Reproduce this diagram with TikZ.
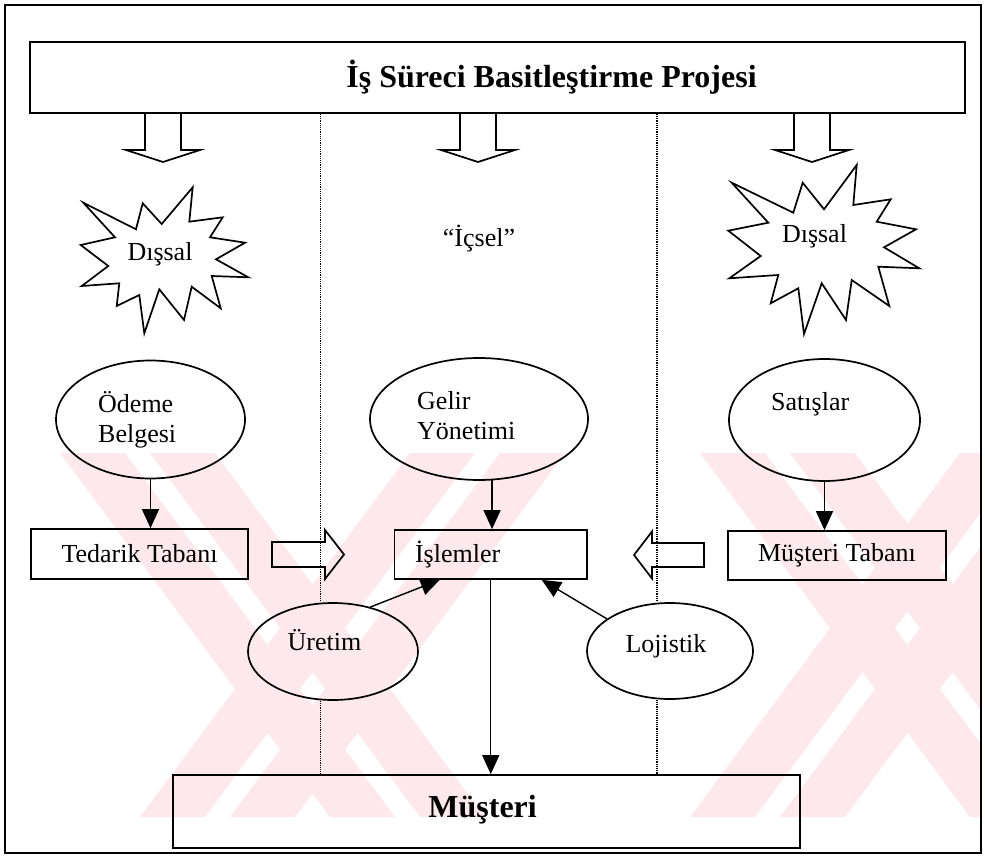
\documentclass[tikz,border=0pt]{standalone}
\usepackage{fontspec}
\setmainfont{Liberation Serif}
\usetikzlibrary{shapes.geometric,arrows.meta}
\definecolor{wm}{RGB}{253,233,236}
\begin{document}
\begin{tikzpicture}[x=1pt,y=-1pt,
  line join=miter,
  frame/.style={line width=1.9pt},
  box/.style={draw, line width=1.7pt, rectangle, inner sep=0pt},
  oval/.style={draw, line width=1.7pt, ellipse, inner sep=0pt},
  lbl/.style={font=\fontsize{26}{30}\selectfont, inner sep=0pt},
  head/.style={font=\bfseries\fontsize{32}{36}\selectfont, inner sep=0pt},
  flow/.style={line width=1.4pt, -{Triangle[length=19pt,width=17pt]}},
  hollow/.style={line width=1.7pt, line join=miter},
  sep/.style={line width=1.2pt, densely dotted},
  burst/.style={line width=1.7pt, line join=miter},
  pics/downarrow/.style={code={
    \draw[hollow] (-18,0) -- (-18,37) -- (-37,37) -- (0,49) -- (37,37) -- (18,37) -- (18,0);}},
  pics/rightarrow/.style={code={
    \draw[hollow] (0,-12.5) -- (53,-12.5) -- (53,-24.5) -- (72,0) -- (53,24.5) -- (53,12.5) -- (0,12.5) -- cycle;}},
  pics/leftarrow/.style={code={
    \draw[hollow] (0,-12) -- (-52,-12) -- (-52,-23.5) -- (-70,0) -- (-52,23.5) -- (-52,12) -- (0,12) -- cycle;}},
]
\useasboundingbox (0,0) rectangle (985,861);

% pale background emblem
\begin{scope}
  \clip (6,6) rectangle (980,852);
  \foreach \a in {60,150,700,790}
    \fill[wm] (\a,453) -- (\a+65,453) -- (\a+335,817) -- (\a+270,817) -- cycle;
  \foreach \b in {140,230,690,780}
    \fill[wm] (\b,817) -- (\b+65,817) -- (\b+335,453) -- (\b+270,453) -- cycle;
\end{scope}

% outer frame
\draw[frame] (5,5) rectangle (981,853);

% project banner
\node[box, minimum width=935pt, minimum height=71pt] (title) at (497.5,77.5) {};
\node[head] (titletext) at (551.5,77) {İş Süreci Basitleştirme Projesi};

% broad arrows leaving the banner
\pic at (163,113) {downarrow};
\pic at (478,113) {downarrow};
\pic at (812,113) {downarrow};

% column separators
\coordinate (sepL) at (320.5,0);
\coordinate (sepR) at (657,0);

% external / internal markers
\draw[burst] (83.3,202.7) -- (136,229.3) -- (142.7,203.3) -- (161.7,224) -- (192.7,187.3)
  -- (189.3,221.7) -- (222.7,217.3) -- (210,237.3) -- (245,242.7) -- (216,259.3)
  -- (248.3,277.3) -- (211.7,276) -- (220.7,308.3) -- (191.7,286.7) -- (184,320)
  -- (159.3,289.3) -- (144.3,333.3) -- (139.3,295) -- (116.7,306) -- (119.3,283.3)
  -- (81.7,286) -- (108.3,266) -- (80.7,245) -- (115,237.3) -- cycle;
\node[lbl, anchor=base] (dissalL) at (160,260) {Dışsal};

\draw[burst] (731.7,182.7) -- (793.3,212.7) -- (802.7,182.7) -- (824,209.3) -- (856.7,165)
  -- (853.3,205) -- (890.7,199.3) -- (876.7,221.7) -- (916,229.3) -- (884,247.3)
  -- (919.3,268.3) -- (878.3,266.7) -- (889.3,306) -- (851.7,280) -- (846,320)
  -- (821.7,283.3) -- (804,334) -- (798.3,288.3) -- (770.7,303.3) -- (778.3,275)
  -- (729.3,278.3) -- (760.7,256) -- (728.3,230.7) -- (768.3,222.7) -- cycle;
\node[lbl, anchor=base] (dissalR) at (814.5,243) {Dışsal};

\node[lbl, anchor=base] (icsel) at (479,247) {“İçsel”};

% functions
\node[oval, minimum width=189pt, minimum height=118pt] (odeme) at (150.5,419.5) {};
\node[lbl, anchor=base west] (odemetxt) at (98,412)
  {\begin{tabular}[t]{@{}l@{}}Ödeme\\Belgesi\end{tabular}};
\node[oval, minimum width=218pt, minimum height=122pt] (gelir) at (479,419) {};
\node[lbl, anchor=base west] (gelirtxt) at (417,409)
  {\begin{tabular}[t]{@{}l@{}}Gelir\\Yönetimi\end{tabular}};
\node[oval, minimum width=191pt, minimum height=122pt] (satis) at (824.5,420) {};
\node[lbl, anchor=base west] (satistxt) at (771,410) {Satışlar};

% bases and operations
\node[box, lbl, minimum width=217pt, minimum height=50pt] (tedarik) at (139.5,554) {Tedarik Tabanı};
\node[box, lbl, minimum width=192.5pt, minimum height=49pt, text width=151.5pt, align=left]
  (islem) at (490.75,554.5) {İşlemler};
\node[box, lbl, minimum width=218pt, minimum height=49pt] (mtaban) at (837,555.5) {Müşteri Tabanı};

\pic at (272,554.5) {rightarrow};
\pic at (704,555) {leftarrow};

\node[oval, minimum width=170pt, minimum height=97pt] (uretim) at (333,651.5) {};
\node[lbl, anchor=base] (uretimtxt) at (324.5,650) {Üretim};
\node[oval, minimum width=166pt, minimum height=96pt] (lojistik) at (670,651) {};
\node[lbl, anchor=base] (lojistiktxt) at (666,652) {Lojistik};

% customer
\node[box, minimum width=627pt, minimum height=73pt] (musteri) at (486.5,811.5) {};
\node[head, anchor=base] (musteritxt) at (482.6,817) {Müşteri};

% dotted separators, interrupted by the two ovals
\draw[sep] (title.south -| sepL) -- (uretim.north -| sepL);
\draw[sep] (uretim.south -| sepL) -- (musteri.north -| sepL);
\draw[sep] (title.south -| sepR) -- (lojistik.north -| sepR);
\draw[sep] (lojistik.south -| sepR) -- (musteri.north -| sepR);

% flows
\draw[flow] (odeme.south) -- (odeme.south |- tedarik.north);
\draw[flow] (gelir.-78) -- (gelir.-78 |- islem.north);
\draw[flow] (satis.south) -- (satis.south |- mtaban.north);
\draw[flow] (islem.south) -- (islem.south |- musteri.north);
\draw[flow] (uretim.50) -- ([xshift=-51pt]islem.south);
\draw[flow] (lojistik.153) -- ([xshift=51pt]islem.south);
\end{tikzpicture}
\end{document}
